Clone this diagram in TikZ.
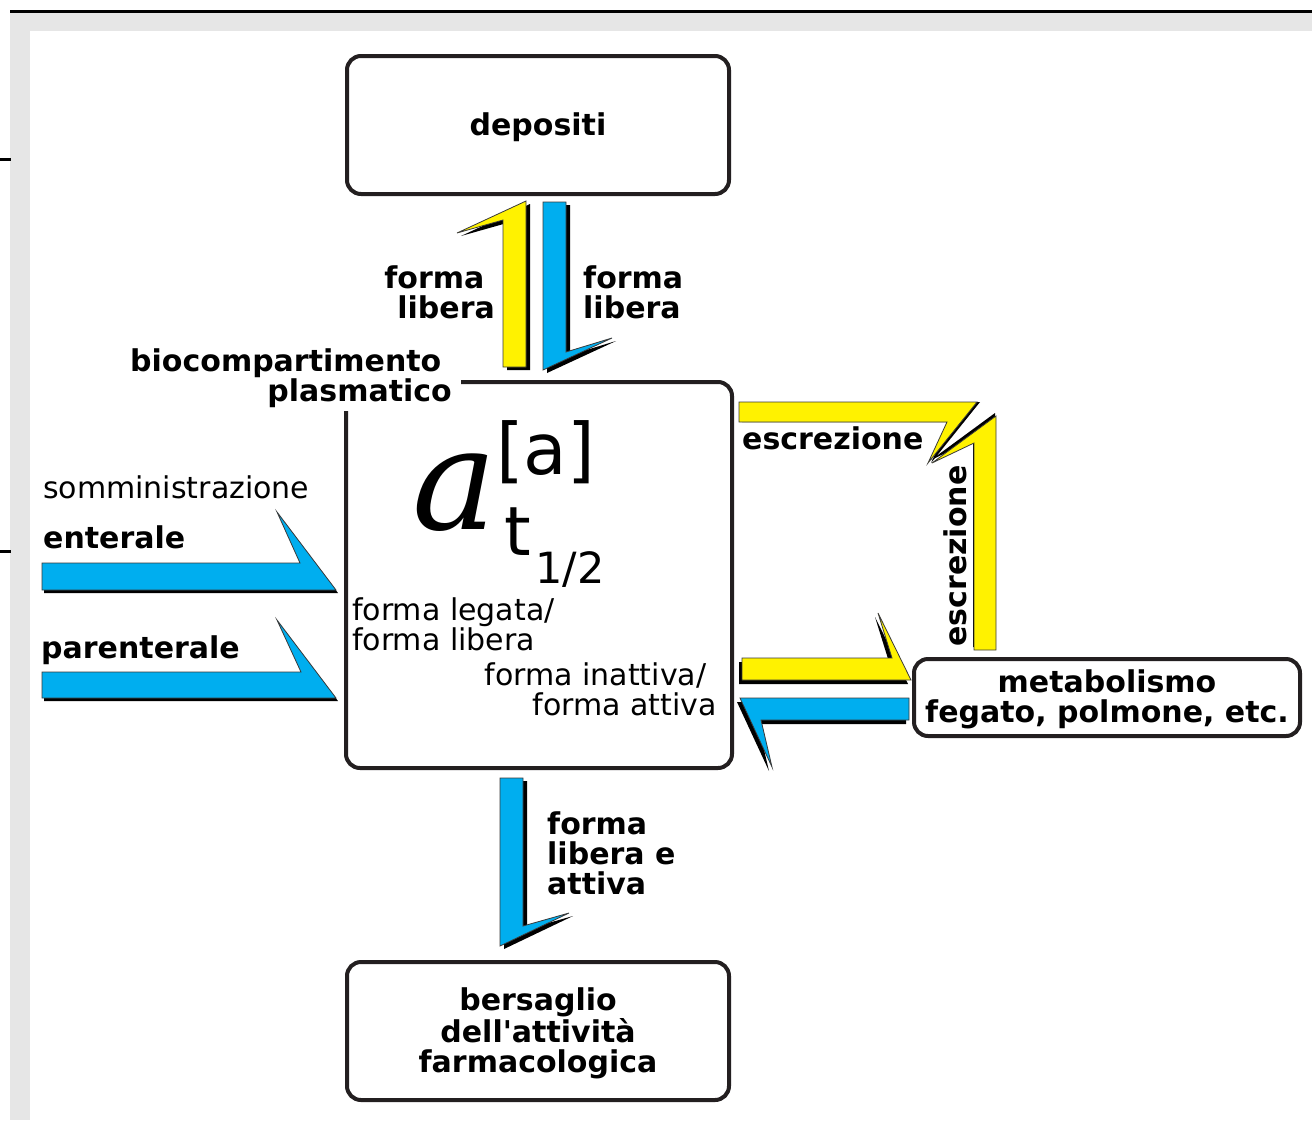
\documentclass[tikz,border=0pt]{standalone}
\usepackage{fontspec}
\setmainfont{DejaVu Sans}
\newfontfamily\dvserif{DejaVu Serif}
\definecolor{ylw}{HTML}{FFF200}
\definecolor{cyn}{HTML}{00AEEF}
\definecolor{boxc}{HTML}{231F20}
\definecolor{bgg}{HTML}{E6E6E6}
\definecolor{edgec}{HTML}{3A3A3A}
\newcommand\trailsp{\hbox to 0.35em{}}
\newcommand\ribbonarrow[3]{%
  \fill[black, shift={#2}] #3;
  \filldraw[fill=#1, draw=edgec, line width=0.8pt, line join=miter] #3;}
\tikzset{
  box/.style={draw=boxc, line width=4pt, rounded corners=14pt, fill=white,
    font=\fontsize{30}{30}\selectfont\bfseries, align=center, inner sep=0pt},
  bold/.style={font=\fontsize{30}{30}\selectfont\bfseries, inner sep=0pt},
  reg/.style={font=\fontsize{30}{30}\selectfont, inner sep=0pt},
}
\begin{document}
\begin{tikzpicture}[x=1pt,y=-1pt]
\useasboundingbox (0,0) rectangle (1312,1120);
% background frame
\fill[bgg] (10,13) rectangle (1312,1120);
\fill[white] (30,31) rectangle (1312,1120);
\draw[line width=3.3pt] (10,11.7) -- (1312,11.7);
\draw[line width=3pt] (0,159.5) -- (11,159.5);
\draw[line width=3pt] (0,551) -- (11,551);

% boxes
\node[box, minimum width=382pt, minimum height=138pt] (dep) at (538,125) {\raisebox{-2pt}[\height][\depth]{depositi}};
\node[box, minimum width=386pt, minimum height=386pt] (central) at (539,575) {};
\node[box, minimum width=386pt, minimum height=77pt] (metab) at (1107,697.5)
  {\rule{0pt}{27pt}metabolismo\\fegato, polmone, etc.};
\node[box, minimum width=382pt, minimum height=138pt] (bers) at (538,1031)
  {\rule{0pt}{27pt}bersaglio\\dell\textquotesingle attività\\farmacologica};

% ribbon arrows
\ribbonarrow{ylw}{(4,3)}{(503,367) -- (526,367) -- (526,201) -- (457,233) -- (503,220) -- cycle}
\ribbonarrow{cyn}{(4,3)}{(543,202) -- (566,202) -- (566,352) -- (612,338) -- (543,370) -- cycle}
\ribbonarrow{cyn}{(4,3)}{(500,778) -- (523,778) -- (523,926) -- (569,913) -- (500,946) -- cycle}
\ribbonarrow{cyn}{(2,3)}{(42,563) -- (300,563) -- (277,512) -- (336,590) -- (42,590) -- cycle}
\ribbonarrow{cyn}{(2,3)}{(42,672) -- (301,672) -- (277,620) -- (336,698) -- (42,698) -- cycle}
\ribbonarrow{ylw}{(-3,4)}{(742,658) -- (892,658) -- (878,613) -- (911,680) -- (742,680) -- cycle}
\ribbonarrow{cyn}{(-3,4)}{(909,698) -- (740,698) -- (772,767) -- (761,720) -- (909,720) -- cycle}
\ribbonarrow{ylw}{(3,0)}{(739,402) -- (977,402) -- (928,463) -- (947,422) -- (739,422) -- cycle}
\ribbonarrow{ylw}{(-1,-3)}{(974,650) -- (996,650) -- (996,416) -- (932,463) -- (974,443) -- cycle}

% labels
\node[bold, align=right, anchor=east] (flL) at (495,292) {forma\trailsp\\libera};
\node[bold, align=left, anchor=west] (flR) at (583,292) {forma\\libera};
\node[bold, align=right, anchor=east, fill=white, inner xsep=9pt, inner ysep=3pt]
  (bio) at (461,378) {biocompartimento\trailsp\\plasmatico};
\node[reg, anchor=west] (somm) at (43,487) {somministrazione};
\node[bold, anchor=west] (ent) at (43,537) {enterale};
\node[bold, anchor=west] (par) at (41,650) {parenterale};
\node[reg, align=left, anchor=west] (fleg) at (352,624) {forma legata/\\forma libera};
\node[reg, align=right, anchor=east] (finatt) at (717,689) {forma inattiva/\trailsp\\forma attiva};
\node[bold, anchor=west] (escr1) at (742,438) {escrezione};
\node[bold, rotate=90] (escr2) at (955,556) {escrezione};
\node[bold, align=left, anchor=west] (fla) at (547,853) {forma\\libera e\\attiva};

% formula
\node[inner sep=0pt, anchor=base west, font=\dvserif\itshape\fontsize{142}{142}\selectfont] (biga) at (412,529) {a};
\node[inner sep=0pt, anchor=base west, font=\fontsize{71}{71}\selectfont] (supa) at (496,474) {[a]};
\node[inner sep=0pt, anchor=base west, font=\fontsize{68}{68}\selectfont] (subt) at (504,555) {t};
\node[inner sep=0pt, anchor=base west, font=\fontsize{43}{43}\selectfont] (half) at (535,583) {1/2};
\end{tikzpicture}
\end{document}
